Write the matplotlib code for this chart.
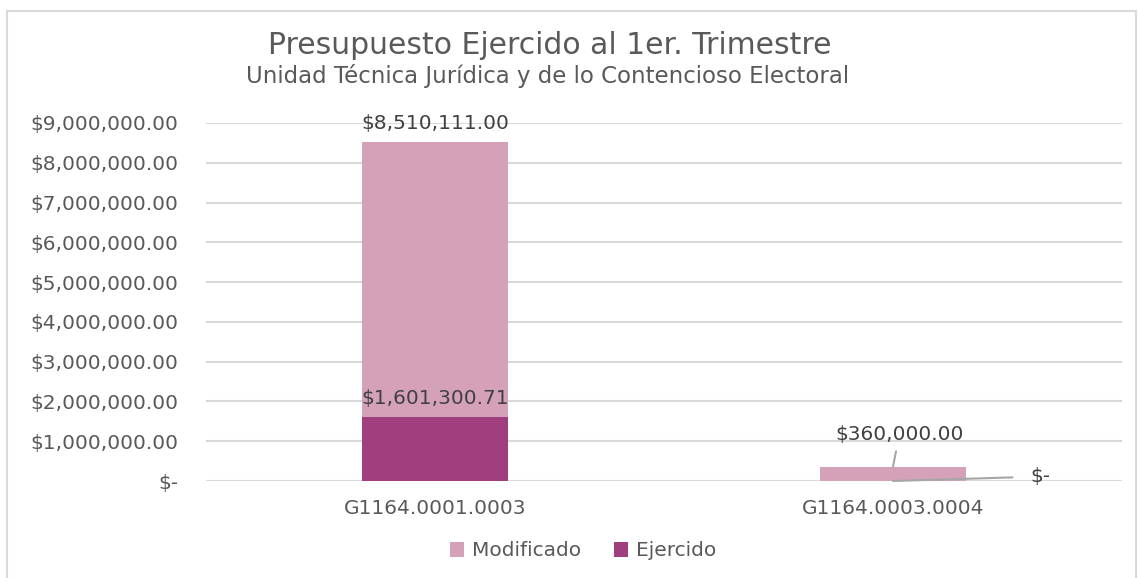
import matplotlib
matplotlib.use("Agg")
import matplotlib.pyplot as plt
from matplotlib.patches import Rectangle
from matplotlib.ticker import FuncFormatter

categories = ["G1164.0001.0003", "G1164.0003.0004"]
modificado = [8510111.00, 360000.00]
ejercido = [1601300.71, 0.0]
yticks = [0, 1e6, 2e6, 3e6, 4e6, 5e6, 6e6, 7e6, 8e6, 9e6]

c_mod = "#D4A1B8"
c_eje = "#A03E7E"
gray_txt = "#595959"
lbl_txt = "#404040"
grid_c = "#D9D9D9"
fs = 14.5

fig = plt.figure(figsize=(11.38, 5.78), dpi=100)
fig.patch.set_facecolor("white")

# outer chart frame
fig.patches.append(Rectangle((7/1138, -0.05), 1129/1138, 1.05 - 11/578,
                             transform=fig.transFigure, fill=False,
                             edgecolor="#D9D9D9", linewidth=1.5))

ax = fig.add_axes([206/1138, 97/578, 916/1138, 358/578])
x = list(range(len(categories)))
w = 0.317
ax.bar(x, modificado, width=w, color=c_mod, zorder=2, label="Modificado")
ax.bar(x, ejercido, width=w, color=c_eje, zorder=3, label="Ejercido")

ax.set_xlim(-0.5, 1.5)
ax.set_ylim(0, 9e6)
ax.set_yticks(yticks)
def fmt(v, p):
    if v == 0:
        return "$-"
    return "${:,.2f}".format(v)
ax.yaxis.set_major_formatter(FuncFormatter(fmt))
ax.set_xticks(x)
ax.set_xticklabels(categories)
ax.tick_params(axis="both", length=0, labelsize=fs, colors=gray_txt)
ax.tick_params(axis="y", pad=20)
ax.tick_params(axis="x", pad=13)
for s in ax.spines.values():
    s.set_visible(False)
ax.yaxis.grid(True, color=grid_c, linewidth=1.5, zorder=0)
ax.set_axisbelow(True)

# data labels
ax.annotate(fmt(modificado[0], None), (x[0], modificado[0]), xytext=(0, 7),
            textcoords="offset points", ha="center", va="bottom",
            fontsize=fs, color=lbl_txt)
ax.annotate(fmt(ejercido[0], None), (x[0], ejercido[0]), xytext=(0, 6.5),
            textcoords="offset points", ha="center", va="bottom",
            fontsize=fs, color=lbl_txt)
ax.annotate(fmt(modificado[1], None), (x[1], modificado[1]), xytext=(5, 16),
            textcoords="offset points", ha="center", va="bottom",
            fontsize=fs, color=lbl_txt,
            arrowprops=dict(arrowstyle="-", color="#A6A6A6", lw=1.5,
                            shrinkA=3, shrinkB=0, relpos=(0.48, 0)))
ax.annotate(fmt(ejercido[1], None), (x[1], ejercido[1]), xytext=(99, 3.0),
            textcoords="offset points", ha="left", va="center",
            fontsize=fs, color=lbl_txt,
            arrowprops=dict(arrowstyle="-", color="#A6A6A6", lw=1.5,
                            shrinkA=11, shrinkB=0, relpos=(0, 0.5)))

# titles
fig.text(550/1138, 1 - 45/578, "Presupuesto Ejercido al 1er. Trimestre",
         ha="center", va="center", fontsize=21.5, color=gray_txt)
fig.text(548/1138, 1 - 76/578, "Unidad Técnica Jurídica y de lo Contencioso Electoral",
         ha="center", va="center", fontsize=16.5, color=gray_txt)

leg = fig.legend(loc="center", bbox_to_anchor=(583/1138, 1 - 551/578), ncol=2,
                 frameon=False, fontsize=fs, handlelength=0.7, handleheight=0.7,
                 handletextpad=0.4, columnspacing=1.6)
for t in leg.get_texts():
    t.set_color(gray_txt)

fig.savefig("out.png", dpi=100)
